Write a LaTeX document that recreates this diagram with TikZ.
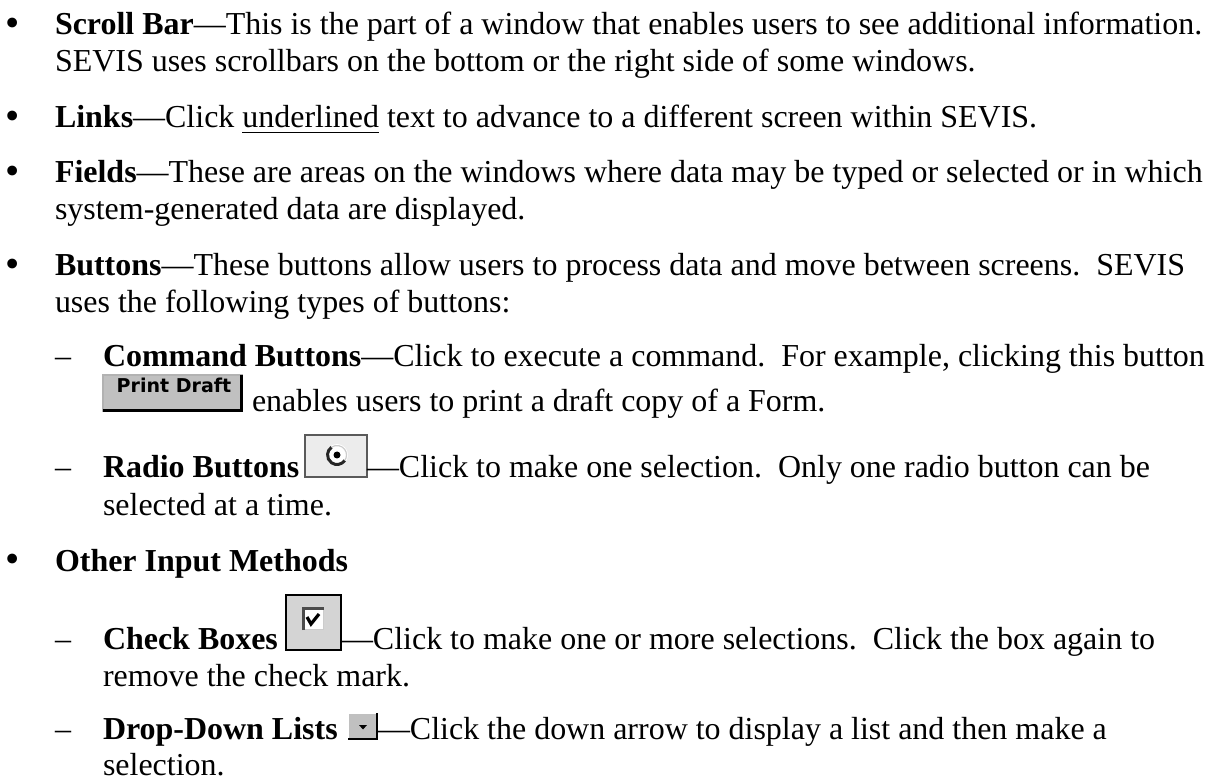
\documentclass[tikz,border=0pt]{standalone}
\usepackage{fontspec}
\setmainfont{Liberation Serif}
\newfontfamily\btnfont{DejaVu Sans}
\newdimen\pxu \pxu=0.3676pt
\definecolor{btngray}{RGB}{192,192,192}
\definecolor{radiofill}{RGB}{236,236,236}
\definecolor{radioedge}{RGB}{90,90,90}
\definecolor{checkfill}{RGB}{212,212,212}
\begin{document}
\begin{tikzpicture}[x=\pxu,y=-\pxu,
  txt/.style={anchor=base west,inner sep=0pt,outer sep=0pt,font=\fontsize{11.75pt}{13.5pt}\selectfont},
  bulletmark/.style={anchor=center,inner sep=0pt,outer sep=0pt,font=\fontsize{15pt}{16pt}\selectfont},
  iconbox/.style={anchor=north west,inner sep=0pt,outer sep=0pt,rectangle}]
\useasboundingbox[fill=white] (0,0) rectangle (1210,778);

% Scroll Bar
\node[bulletmark] (m1) at (13,27) {•};
\node[txt] (l1) at (55,35) {\textbf{Scroll Bar}—This is the part of a window that enables users to see additional information.};
\node[txt] (l2) at (55,72) {SEVIS uses scrollbars on the bottom or the right side of some windows.};

% Links
\node[bulletmark] (m2) at (13,120) {•};
\node[txt] (l3) at (55,128) {\textbf{Links}—Click \underline{underlined} text to advance to a different screen within SEVIS.};

% Fields
\node[bulletmark] (m3) at (13,175) {•};
\node[txt] (l4) at (55,183) {\textbf{Fields}—These are areas on the windows where data may be typed or selected or in which};
\node[txt] (l5) at (55,220) {system-generated data are displayed.};

% Buttons
\node[bulletmark] (m4) at (13,268) {•};
\node[txt] (l6) at (55,276) {\textbf{Buttons}—These buttons allow users to process data and move between screens.\ \ SEVIS};
\node[txt] (l7) at (55,313) {uses the following types of buttons:};

% Command buttons
\node[txt] (d1) at (55,367) {–};
\node[txt] (l8) at (103,367) {\textbf{Command Buttons}—Click to execute a command.\ \ For example, clicking this button};
\node[iconbox,fill=btngray,minimum width=140\pxu,minimum height=37\pxu] (pd) at (103,375) {};
\draw[line width=1.2\pxu,gray!60] (pd.south west) -- (pd.north west) -- (pd.north east);
\draw[line width=3\pxu,black] ([yshift=1.5\pxu]pd.south west) -- ([xshift=-1.5\pxu,yshift=1.5\pxu]pd.south east) -- ([xshift=-1.5\pxu]pd.north east);
\node[anchor=base,inner sep=0pt,font=\btnfont\bfseries\fontsize{7pt}{8pt}\selectfont] (pdl) at (174,393) {Print Draft};
\node[txt] (l9) at (252,412) {enables users to print a draft copy of a Form.};

% Radio buttons
\node[txt] (d2) at (55,478) {–};
\node[txt] (l10a) at (103,478) {\textbf{Radio Buttons}};
\node[iconbox,fill=radiofill,draw=radioedge,line width=1.5\pxu,minimum width=62\pxu,minimum height=42\pxu] (rb) at (305,435) {};
\fill[white] (337,455) circle (11);
\draw[line width=3\pxu,black!85] (337,455) ++(35:9.5) arc (35:235:9.5);
\draw[line width=1.2\pxu,gray!40] (337,455) ++(235:9.5) arc (235:395:9.5);
\fill[black] (337,455) circle (3.5);
\node[txt] (l10b) at (367,478) {—Click to make one selection.\ \ Only one radio button can be};
\node[txt] (l11) at (103,516) {selected at a time.};

% Other input methods
\node[bulletmark] (m5) at (13,563) {•};
\node[txt] (l12) at (55,571) {\textbf{Other Input Methods}};

% Check boxes
\node[txt] (d3) at (55,649) {–};
\node[txt] (l13a) at (103,649) {\textbf{Check Boxes}};
\node[iconbox,fill=checkfill,draw=black,line width=2\pxu,minimum width=55\pxu,minimum height=55\pxu] (cb) at (286,595) {};
\fill[white] (302,607) rectangle (324,630);
\draw[line width=1.5\pxu,gray!40] (302.5,629.5) -- (323.5,629.5) -- (323.5,607.5);
\draw[line width=3\pxu,black!70] (303.5,630) -- (303.5,608.5) -- (324,608.5);
\draw[line width=3.2\pxu,black,line join=miter] (307,617) -- (311,624) -- (319,614);
\node[txt] (l13b) at (341,649) {—Click to make one or more selections.\ \ Click the box again to};
\node[txt] (l14) at (103,686) {remove the check mark.};

% Drop-down lists
\node[txt] (d4) at (55,739) {–};
\node[txt] (l15a) at (103,739) {\textbf{Drop-Down Lists}};
\node[iconbox,fill=btngray,minimum width=30\pxu,minimum height=27\pxu] (dd) at (348,713) {};
\draw[line width=1.2\pxu,white] (dd.south west) -- (dd.north west) -- (dd.north east);
\draw[line width=2\pxu,black] ([yshift=1\pxu]dd.south west) -- ([xshift=-1\pxu,yshift=1\pxu]dd.south east) -- ([xshift=-1\pxu]dd.north east);
\fill[black] (359,725) -- (367,725) -- (363,729.5) -- cycle;
\node[txt] (l15b) at (378,739) {—Click the down arrow to display a list and then make a};
\node[txt] (l16) at (103,775) {selection.};
\end{tikzpicture}
\end{document}
